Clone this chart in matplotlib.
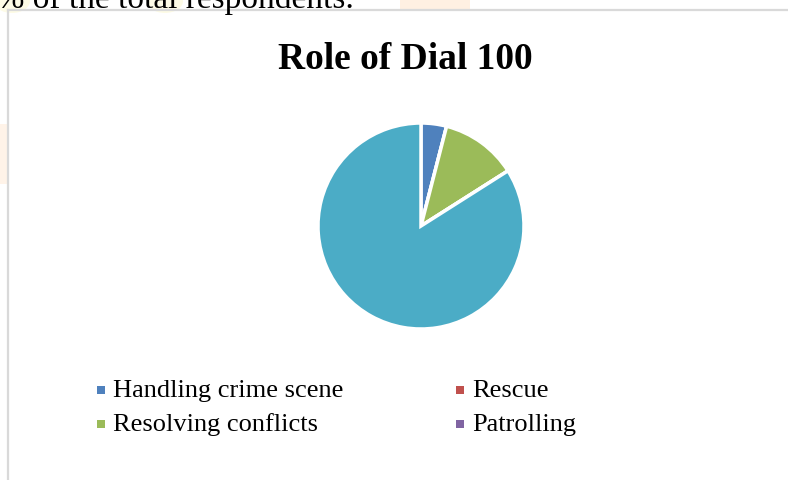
import matplotlib
matplotlib.use("Agg")
import matplotlib.pyplot as plt
from matplotlib.patches import Rectangle, Ellipse

# dados do grafico
categorias = ["Handling crime scene", "Rescue", "Resolving conflicts", "Patrolling", "Other"]
valores = [4, 0, 12, 0, 84]
cores = ["#4F81BD", "#C0504D", "#9BBB59", "#8064A2", "#4BACC6"]
legenda = categorias[:4]          # so as 4 primeiras aparecem na legenda
titulo = "Role of Dial 100"
texto_acima = "4% of the total respondents."

W, H = 788, 481
fig = plt.figure(figsize=(W / 100, H / 100), dpi=100)
fig.patch.set_facecolor("white")
serif = "Liberation Serif"

def fx(px):
    return px / W

def fy(py):
    return 1 - py / H

# manchas claras da marca d'agua
fig.patches.append(Rectangle((fx(400), fy(11)), fx(70), 11 / H, transform=fig.transFigure,
                             facecolor="#FFF0E2", edgecolor="none", zorder=0))
fig.patches.append(Rectangle((0, fy(185)), fx(7), 60 / H, transform=fig.transFigure,
                             facecolor="#FFF3E8", edgecolor="none", zorder=0))
for ex in (12, 165):
    fig.patches.append(Ellipse((fx(ex), fy(2)), fx(36), 24 / H, transform=fig.transFigure,
                               facecolor="#FDFBE6", edgecolor="none", zorder=0))

# linha de texto cortada no topo
fig.text(fx(-20), fy(8), texto_acima, fontsize=24, family=serif, color="black",
         ha="left", va="baseline")

# moldura do grafico
fig.add_artist(plt.Line2D([fx(8), fx(8)], [fy(11), 0], transform=fig.transFigure,
                          color="#D9D9D9", lw=1.6))
fig.add_artist(plt.Line2D([fx(8), 1], [fy(11), fy(11)], transform=fig.transFigure,
                          color="#D9D9D9", lw=1.6))

fig.text(fx(405), fy(69), titulo, fontsize=27, fontweight="bold", family=serif,
         ha="center", va="baseline")

# pizza
cx, cy, r = 421, 227, 103
ax = fig.add_axes([fx(cx - r), fy(cy + r), 2 * r / W, 2 * r / H])
ax.pie(valores, colors=cores, startangle=90, counterclock=False, radius=1,
       wedgeprops=dict(edgecolor="white", linewidth=2.5))
ax.set_xlim(-1, 1)
ax.set_ylim(-1, 1)
ax.set_aspect("auto")
ax.axis("off")

# legenda em duas colunas
col_x = [97, 456]
lin_y = [391, 425]
for i, nome in enumerate(legenda):
    x = col_x[i % 2]
    y = lin_y[i // 2]
    fig.patches.append(Rectangle((fx(x), fy(y + 4)), fx(8), 8 / H, transform=fig.transFigure,
                                 facecolor=cores[i], edgecolor="none"))
    fig.text(fx(x + 16), fy(y), nome, fontsize=19, family=serif, ha="left", va="center")

fig.savefig("out.png", dpi=100)
